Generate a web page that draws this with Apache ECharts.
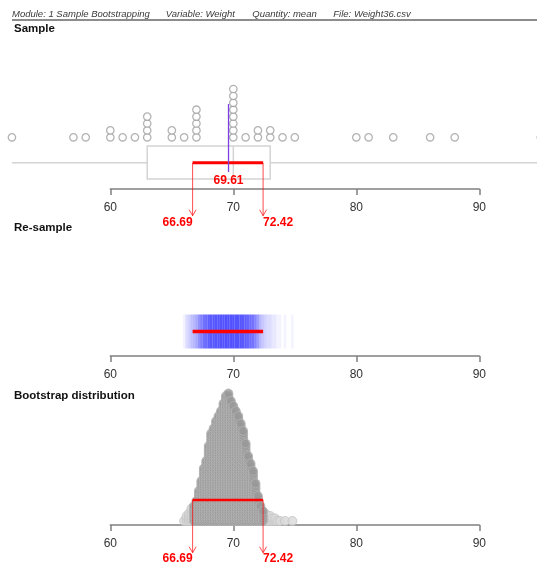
<!DOCTYPE html>
<html>
<head>
<meta charset="utf-8">
<script src="https://cdn.jsdelivr.net/npm/echarts@6/dist/echarts.min.js"></script>
<style>
html, body { margin: 0; padding: 0; background: #fff; }
#main { width: 537px; height: 565px; }
</style>
</head>
<body>
<div id="main"></div>
<script>
// sample (Weight36.csv)
var sampleValues = [52, 57, 58, 60, 60, 61, 62, 63, 63, 63, 63, 65, 65, 66, 67, 67, 67, 67, 67,
    70, 70, 70, 70, 70, 70, 70, 70, 71, 72, 72, 73, 73, 74, 75, 80, 81, 83, 86, 88, 95];
var boxStats = [52, 63, 70, 73, 95];
var sampleMean = 69.61;
var ciLimits = [66.69, 72.42];
var axisTicks = [60, 70, 80, 90];
// bootstrap means, binned: bin centre and number of stacked dots
var bootBins = [66.0, 66.2, 66.4, 66.6, 66.8, 67.0, 67.2, 67.4, 67.6, 67.8, 68.0, 68.2, 68.4, 68.6, 68.8,
    69.0, 69.2, 69.4, 69.6, 69.8, 70.0, 70.2, 70.4, 70.6, 70.8, 71.0, 71.2, 71.4, 71.6, 71.8,
    72.0, 72.2, 72.4, 72.6, 72.8, 73.0, 73.2, 73.4, 73.6, 73.8, 74.0, 74.2, 74.4, 74.6, 74.8];
var bootCounts = [1, 3, 4, 6, 7, 9, 13, 17, 22, 25, 31, 36, 38, 41, 43,
    45, 48, 51, 52, 49, 47, 45, 43, 40, 37, 32, 27, 24, 21, 16,
    11, 7, 5, 4, 3, 3, 2, 2, 1, 1, 0, 1, 0, 0, 1];

var chart = echarts.init(document.getElementById('main'), null, {renderer: 'canvas'});

var xMin = 51.03, xMax = 94.69;   // full width of the plot area
var font = '"Liberation Sans", Arial, sans-serif';

// stack the sample dots
var seen = {};
var sampleDots = sampleValues.map(function (v) {
    seen[v] = seen[v] || 0;
    return [v, seen[v]++];
});

// bootstrap pile, darker inside the interval
var pileIn = [], pileOut = [];
bootBins.forEach(function (b, i) {
    for (var k = 0; k < bootCounts[i]; k++) {
        if (b >= ciLimits[0] && b <= ciLimits[1]) pileIn.push([b, k]);
        else pileOut.push([b, k]);
    }
});
var bandData = bootBins.map(function (b, i) { return [b, bootCounts[i]]; });

function shownAxis(i) {
    return {
        gridIndex: i, type: 'value', position: 'bottom',
        min: axisTicks[0], max: axisTicks[axisTicks.length - 1], interval: axisTicks[1] - axisTicks[0],
        axisLine: {show: true, lineStyle: {color: '#808080', width: 1.5}},
        axisTick: {show: true, length: 6, lineStyle: {color: '#808080', width: 1.5}},
        axisLabel: {color: '#333', fontSize: 12, fontFamily: font, margin: 13},
        splitLine: {show: false}
    };
}

function redText(x, y, txt, align) {
    return {
        type: 'text',
        style: {
            x: x, y: y, text: txt, fill: '#ff0000',
            font: 'bold 12px ' + font,
            align: align, textAlign: align,
            verticalAlign: 'middle', textVerticalAlign: 'middle'
        }
    };
}

function ciRender(o) {
    return function (params, api) {
        var lo = api.value(0), mean = api.value(1), hi = api.value(2);
        var pl = api.coord([lo, 0]), ph = api.coord([hi, 0]), pm = api.coord([mean, 0]);
        var y0 = pl[1];
        var yb = y0 + o.bar, yt = y0 + o.tip;
        var kids = [];
        [pl[0], ph[0]].forEach(function (x) {
            kids.push({type: 'line', shape: {x1: x, y1: yb, x2: x, y2: yt},
                style: {stroke: 'rgba(255,0,0,0.7)', lineWidth: 1}});
            kids.push({type: 'polyline', shape: {points: [[x - 3.5, yt - 6], [x, yt], [x + 3.5, yt - 6]]},
                style: {stroke: 'rgba(255,0,0,0.7)', lineWidth: 1, fill: null}});
        });
        kids.push({type: 'line', shape: {x1: pl[0], y1: yb, x2: ph[0], y2: yb},
            style: {stroke: '#ff0000', lineWidth: o.width}});
        kids.push(redText(pl[0], y0 + o.label, lo.toFixed(2), 'right'));
        kids.push(redText(ph[0], y0 + o.label, hi.toFixed(2), 'left'));
        if (o.mean) {
            kids.push(redText(pm[0], y0 + o.mean, mean.toFixed(2), 'center'));
            kids.push({type: 'line', shape: {x1: pm[0], y1: y0 - 33.3, x2: pm[0], y2: y0 + 34.7},
                style: {stroke: '#7b3fe4', lineWidth: 1.3}});
        }
        return {type: 'group', children: kids};
    };
}

var option = {
    animation: false,
    backgroundColor: '#fff',
    title: [
        {text: 'Sample', left: 14, top: 23},
        {text: 'Re-sample', left: 14, top: 222},
        {text: 'Bootstrap distribution', left: 14, top: 390}
    ].map(function (t) {
        t.padding = 0;
        t.textStyle = {fontSize: 11.5, fontWeight: 'bold', color: '#111', fontFamily: font};
        return t;
    }),
    graphic: [
        {type: 'text', left: 12, top: 9, style: {text: 'Module: 1 Sample Bootstrapping', fill: '#3a3a3a', font: 'italic 9.5px ' + font}},
        {type: 'text', left: 165.7, top: 9, style: {text: 'Variable: Weight', fill: '#3a3a3a', font: 'italic 9.5px ' + font}},
        {type: 'text', left: 252.3, top: 9, style: {text: 'Quantity: mean', fill: '#3a3a3a', font: 'italic 9.5px ' + font}},
        {type: 'text', left: 333.3, top: 9, style: {text: 'File: Weight36.csv', fill: '#3a3a3a', font: 'italic 9.5px ' + font}},
        {type: 'line', shape: {x1: 12, y1: 20, x2: 537, y2: 20}, style: {stroke: '#8c8c8c', lineWidth: 2}}
    ],
    grid: [
        {left: 0, width: 537, top: 54.5, height: 138},     // sample dots
        {left: 110.3, width: 369, top: 188, height: 1},     // sample axis
        {left: 0, width: 537, top: 314.5, height: 34},      // re-sample band
        {left: 110.3, width: 369, top: 355, height: 1},     // re-sample axis
        {left: 0, width: 537, top: 371, height: 150},       // bootstrap pile
        {left: 110.3, width: 369, top: 524, height: 1}      // bootstrap axis
    ],
    xAxis: [
        {gridIndex: 0, type: 'value', min: xMin, max: xMax, show: false},
        shownAxis(1),
        {gridIndex: 2, type: 'value', min: xMin, max: xMax, show: false},
        shownAxis(3),
        {gridIndex: 4, type: 'value', min: xMin, max: xMax, show: false},
        shownAxis(5)
    ],
    yAxis: [
        {gridIndex: 0, type: 'value', min: -8, max: 12, show: false},
        {gridIndex: 1, type: 'value', min: 0, max: 1, show: false},
        {gridIndex: 2, type: 'value', min: 0, max: 1, show: false},
        {gridIndex: 3, type: 'value', min: 0, max: 1, show: false},
        {gridIndex: 4, type: 'value', min: 0, max: 60, show: false},
        {gridIndex: 5, type: 'value', min: 0, max: 1, show: false}
    ],
    series: [
        {
            // box plot of the sample
            type: 'custom', xAxisIndex: 0, yAxisIndex: 0, z: 1,
            data: [boxStats],
            renderItem: function (params, api) {
                var c = [0, 1, 2, 3, 4].map(function (d) { return api.coord([api.value(d), 0]); });
                var y0 = c[0][1];
                var st = {stroke: '#d4d4d4', lineWidth: 1.5, fill: null};
                return {type: 'group', children: [
                    {type: 'line', shape: {x1: c[0][0], y1: y0 + 25.4, x2: c[1][0], y2: y0 + 25.4}, style: st},
                    {type: 'line', shape: {x1: c[3][0], y1: y0 + 25.4, x2: c[4][0], y2: y0 + 25.4}, style: st},
                    {type: 'rect', shape: {x: c[1][0], y: y0 + 8.7, width: c[3][0] - c[1][0], height: 33}, style: st},
                    {type: 'line', shape: {x1: c[2][0], y1: y0 + 8.7, x2: c[2][0], y2: y0 + 41.7}, style: st}
                ]};
            }
        },
        {
            type: 'scatter', xAxisIndex: 0, yAxisIndex: 0, z: 2, clip: false,
            symbol: 'circle', symbolSize: 7.4,
            itemStyle: {color: '#fff', borderColor: '#a0a0a0', borderWidth: 1.3},
            data: sampleDots
        },
        {
            type: 'custom', xAxisIndex: 0, yAxisIndex: 0, z: 3,
            data: [[ciLimits[0], sampleMean, ciLimits[1]]],
            renderItem: ciRender({bar: 25.4, tip: 78.4, label: 85, mean: 43.4, width: 3})
        },
        {
            // re-sample: one stripe per bin, darker where more bootstrap means fall
            type: 'custom', xAxisIndex: 2, yAxisIndex: 2, z: 1,
            data: bandData,
            renderItem: function (params, api) {
                var b = api.value(0), n = api.value(1);
                var p0 = api.coord([b - 0.1, 1]), p1 = api.coord([b + 0.1, 0]);
                return {type: 'rect', shape: {x: p0[0], y: p0[1], width: p1[0] - p0[0], height: p1[1] - p0[1]},
                    style: {fill: '#0000ff', opacity: 0.7 * (1 - Math.pow(0.93, n))}};
            }
        },
        {
            type: 'custom', xAxisIndex: 2, yAxisIndex: 2, z: 3,
            data: [ciLimits],
            renderItem: function (params, api) {
                var a = api.coord([api.value(0), 0.5]), b = api.coord([api.value(1), 0.5]);
                return {type: 'line', shape: {x1: a[0], y1: a[1], x2: b[0], y2: b[1]},
                    style: {stroke: '#ff0000', lineWidth: 3.3}};
            }
        },
        {
            type: 'scatter', xAxisIndex: 4, yAxisIndex: 4, z: 2,
            symbol: 'circle', symbolSize: 9,
            itemStyle: {color: '#dadada', borderColor: '#c4c4c4', borderWidth: 1},
            data: pileOut
        },
        {
            type: 'scatter', xAxisIndex: 4, yAxisIndex: 4, z: 2,
            symbol: 'circle', symbolSize: 9,
            itemStyle: {color: '#989898', borderColor: '#b4b4b4', borderWidth: 1},
            data: pileIn
        },
        {
            type: 'custom', xAxisIndex: 4, yAxisIndex: 4, z: 3,
            data: [[ciLimits[0], sampleMean, ciLimits[1]]],
            renderItem: ciRender({bar: -21, tip: 31.7, label: 38, width: 2.5})
        }
    ]
};
chart.setOption(option);
</script>
</body>
</html>
